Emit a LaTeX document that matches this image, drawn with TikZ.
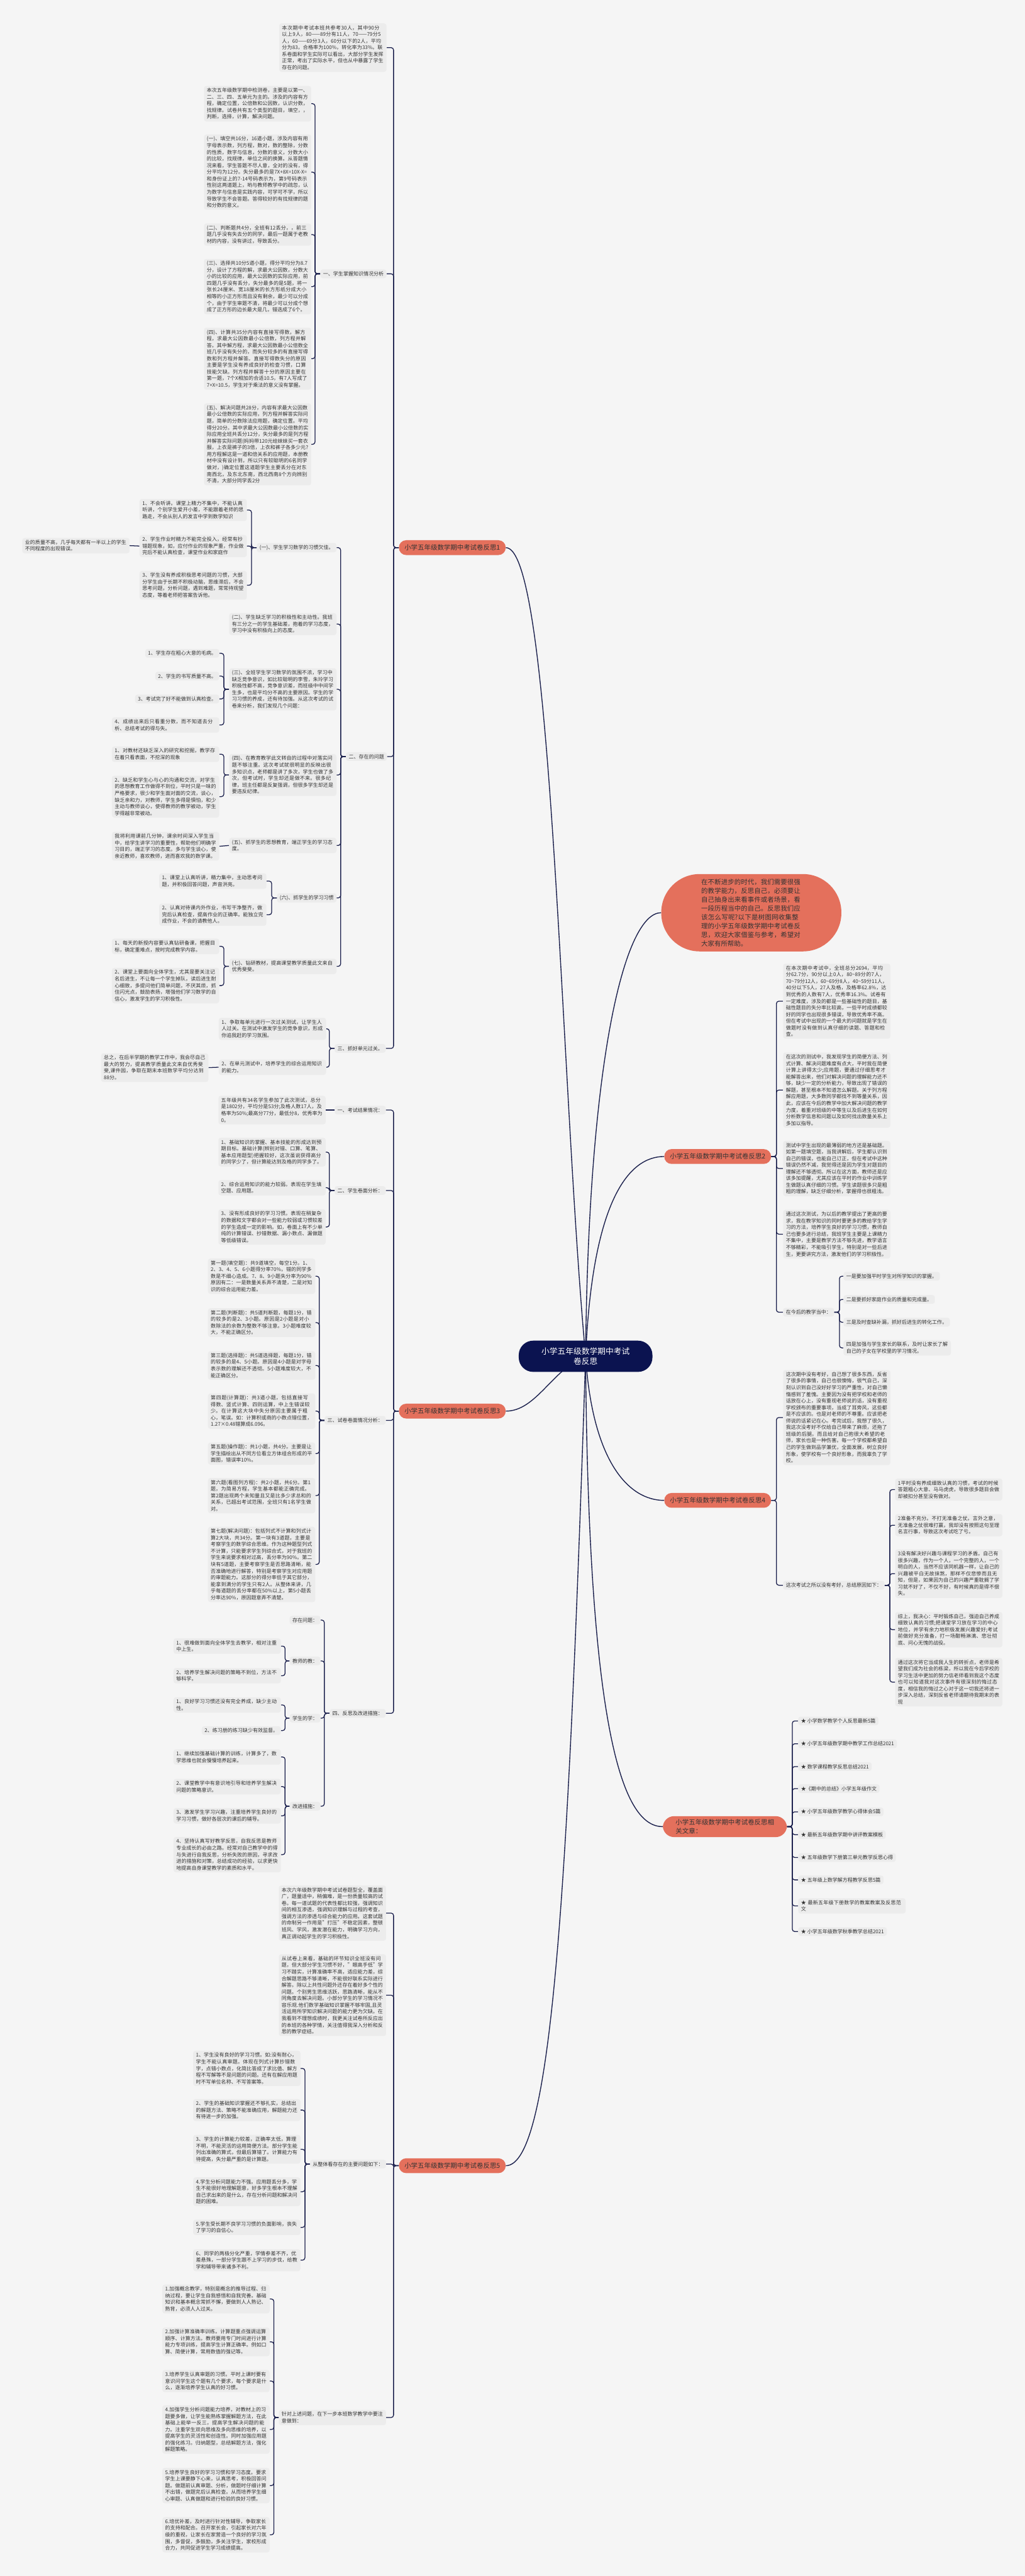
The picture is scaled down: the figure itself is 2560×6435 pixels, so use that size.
\documentclass[tikz,border=0pt]{standalone}
\usepackage{fontspec}
\setmainfont{Noto Sans CJK SC}
\XeTeXlinebreaklocale "zh"
\XeTeXlinebreakskip = 0pt plus 1pt
\usetikzlibrary{backgrounds}
\definecolor{bgc}{HTML}{F5F5F5}
\definecolor{boxc}{HTML}{ECECEC}
\definecolor{txtc}{HTML}{333333}
\definecolor{coral}{HTML}{E4705C}
\definecolor{navy}{HTML}{0B1350}
\definecolor{linec}{HTML}{1A1F4C}

\begin{document}
\begin{tikzpicture}[
    x=0.5pt, y=-0.5pt,
    txt/.style={fill=boxc, rounded corners=3pt, inner xsep=3.5pt, inner ysep=2.5pt, text=txtc, font=\fontsize{6.3}{8.3}\selectfont, text width=127pt, align=left},
    lbl/.style={fill=boxc, rounded corners=3pt, inner xsep=3.5pt, inner ysep=2.5pt, text=txtc, font=\fontsize{6.3}{8.3}\selectfont},
    branch/.style={fill=coral, rounded corners=9pt, minimum height=18.5pt, inner xsep=7pt, text=txtc, font=\fontsize{8.2}{10.5}\selectfont},
    root/.style={fill=navy, text=white, rounded corners=18pt, minimum width=167pt, minimum height=39pt, align=center, font=\fontsize{10}{13}\selectfont},
    intro/.style={fill=coral, rounded corners=48pt, text width=125pt, inner xsep=50pt, inner ysep=6pt, align=left, text=txtc, font=\fontsize{8.2}{11}\selectfont},
    link/.style={draw=linec, line width=1pt, rounded corners=3pt},
    trunk/.style={draw=linec, line width=1.1pt}
]
\begin{pgfonlayer}{background}
\fill[bgc] (0,0) rectangle (2560,6435);
\end{pgfonlayer}
\useasboundingbox (0,0) rectangle (2560,6435);

\node[root] (root) at (1463,3388) {小学五年级数学期中考试\\卷反思};
\node[intro] (intro) at (1877,2280) {在不断进步的时代，我们需要很强的教学能力，反思自己，必须要让自己抽身出来看事件或者场景，看一段历程当中的自己。反思我们应该怎么写呢?以下是树图网收集整理的小学五年级数学期中考试卷反思，欢迎大家借鉴与参考，希望对大家有所帮助。};

\node[branch] (b1) at (1130,1368) {小学五年级数学期中考试卷反思1};
\node[txt, anchor=east] (p1) at (966,119) {本次期中考试本班共参考30人，其中90分以上9人，80——89分有11人，70——79分5人，60——69分3人，60分以下的2人，平均分为83，合格率为100\%，转化率为33\%。联系卷面和学生实际可以看出，大部分学生发挥正常，考出了实际水平，但也从中暴露了学生存在的问题。};
\node[lbl, anchor=east] (a0) at (966,684) {一、学生掌握知识情况分析};
\node[txt, anchor=east] (B1) at (778,259) {本次五年级数学期中检测卷，主要是以第一、二、三、四、五单元为主的。涉及的内容有方程，确定位置，公倍数和公因数，认识分数，找规律。试卷共有五个类型的题目，填空，，判断，选择，计算，解决问题。};
\node[txt, anchor=east] (B2) at (778,430) {(一)、填空共16分，16道小题，涉及内容有用字母表示数，列方程，数对，数的整除，分数的性质，数字与信息，分数的意义，分数大小的比较，找规律，单位之间的换算。从答题情况来看，学生答题不尽人意，全对的没有，得分平均为12分。失分最多的是7X+8X=10X-X=和身份证上的7-14号码表示为，第9号码表示性别这两道题上，哟与教师教学中的疏忽，认为数字与信息是实践内容，可学可不学，所以导致学生不会答题。答得较好的有找规律的题和分数的意义。};
\node[txt, anchor=east] (B3) at (778,586) {(二)、判断题共4分，全班有12丢分，，前三题几乎没有失去分的同学，最后一题属于老教材的内容，没有讲过，导致丢分。};
\node[txt, anchor=east] (B4) at (778,716) {(三)、选择共10分5道小题，得分平均分为8.7分，设计了方程的解，求最大公因数，分数大小的比较的应用，最大公因数的实际应用，前四题几乎没有丢分，失分最多的是5题，将一张长24厘米、宽18厘米的长方形纸分成大小相等的小正方形而且没有剩余，最少可以分成个，由于学生审题不清，将最少可以分成个想成了正方形的边长最大是几，错选成了6个。};
\node[txt, anchor=east] (B5) at (778,896) {(四)、计算共35分内容有直接写得数，解方程，求最大公因数最小公倍数，列方程并解答。其中解方程，求最大公因数最小公倍数全班几乎没有失分的，而失分较多的有直接写得数和列方程并解答。直接写得数失分的原因主要是学生没有养成良好的检查习惯，口算技能欠缺。列方程并解答十分的原因主要在第一题，7个X相加的合适10.5，有7人写成了7+X=10.5，学生对于乘法的意义没有掌握。};
\node[txt, anchor=east] (B6) at (778,1110) {(五)、解决问题共28分，内容有求最大公因数最小公倍数的实际应用，列方程并解答实际问题，简单的分数除法应用题，确定位置。平均得分20分。其中求最大公因数最小公倍数的实际应用全班共丢分12分，失分最多的是列方程并解答实际问题(妈妈带120元给妹妹买一套衣服，上衣是裤子的3倍，上衣和裤子各多少元?用方程解这是一道和倍关系的应用题，本册教材中没有设计到，所以只有较聪明的6名同学做对，)确定位置这道题学生主要丢分在对东南西北，及东北东南，西北西南8个方向辨别不清，大部分同学丢2分};

\node[lbl, anchor=east] (a1) at (967,1890) {二、存在的问题};
\node[lbl, anchor=east] (A1a) at (841,1368) {(一)、学生学习数学的习惯欠佳。};
\node[txt, anchor=east] (C1) at (617,1274) {1、不会听讲。课堂上精力不集中，不能认真听讲，个别学生爱开小差，不能跟着老师的思路走，不会从别人的发言中学到数学知识};
\node[txt, anchor=east] (C2) at (617,1364) {2、学生作业时精力不能完全投入，经常有抄错题现象，如，应付作业的现象严重，作业做完后不能认真检查，课堂作业和家庭作};
\node[txt, anchor=east] (C2t) at (324,1363) {业的质量不高，几乎每天都有一半以上的学生不同程度的出现错误。};
\node[txt, anchor=east] (C3) at (617,1462) {3、学生没有养成积极思考问题的习惯，大部分学生由于长期不积极动脑，思维滞后，不会思考问题，分析问题，遇到难题，常常持观望态度，等着老师把答案告诉他。};
\node[txt, anchor=east] (A1b) at (841,1559) {(二)、学生缺乏学习的积极性和主动性。我班有三分之一的学生基础差，抱着的学习态度，学习中没有积极向上的态度。};
\node[txt, anchor=east] (A1c) at (841,1722) {(三)、全班学生学习数学的氛围不浓，学习中缺乏竞争意识，如比较聪明的李雪，朱玲学习积极性都不高，竞争意识差，而班级中中间学生多，也是平均分不高的主要原因。学生的学习习惯的养成，还有待加强。从这次考试的试卷来分析，我们发现几个问题：};
\node[lbl, anchor=east] (D1) at (548,1632) {1、学生存在粗心大意的毛病。};
\node[lbl, anchor=east] (D2) at (548,1689) {2、学生的书写质量不高。};
\node[lbl, anchor=east] (D3) at (548,1746) {3、考试完了好不能做到认真检查。};
\node[txt, anchor=east] (D4) at (548,1811) {4、成绩出来后只看重分数，而不知道去分析、总结考试的得与失。};
\node[txt, anchor=east] (A1d) at (841,1936) {(四)、在教育教学此文转自的过程中对落实问题不够注重。这次考试就很明显的反映出很多知识点，老师都是讲了多次，学生也做了多次，但考试时，学生却还是做不来。很多纪律，班主任都是反复强调，但很多学生却还是要违反纪律。};
\node[txt, anchor=east] (E1) at (548,1884) {1、对教材还缺乏深入的研究和挖掘，教学存在着只看表面，不挖深的现象};
\node[txt, anchor=east] (E2) at (548,1990) {2、缺乏和学生心与心的沟通和交流，对学生的思想教育工作做得不到位，平时只是一味的严格要求，很少和学生面对面的交流，谈心，缺乏亲和力，对教师，学生多得是惧怕，和少主动与教师谈心，使得教师的教学被动，学生学得越非常被动。};
\node[txt, anchor=east] (A1e) at (841,2112) {(五)、抓学生的思想教育，端正学生的学习态度。};
\node[txt, anchor=east] (F1) at (548,2114) {我将利用课前几分钟，课余时间深入学生当中，给学生讲学习的重要性，帮助他们明确学习目的，端正学习的态度。多与学生谈心，使亲近教师，喜欢教师，进而喜欢我的数学课。};
\node[lbl, anchor=east] (A1f) at (841,2243) {(六)、抓学生的学习习惯};
\node[txt, anchor=east] (G1) at (666,2201) {1、课堂上认真听讲，精力集中，主动思考问题，并积极回答问题，声音洪亮。};
\node[txt, anchor=east] (G2) at (666,2285) {2、认真对待课内外作业，书写干净整齐，做完后认真检查，提高作业的正确率。能独立完成作业，不会的请教他人。};
\node[txt, anchor=east] (A1g) at (841,2414) {(七)、钻研教材，提高课堂教学质量此文来自优秀斐斐。};
\node[txt, anchor=east] (H1) at (548,2364) {1、每天的新授内容要认真钻研备课，把握目标，确定重难点，按时完成教学内容。};
\node[txt, anchor=east] (H2) at (548,2462) {2、课堂上要面向全体学生，尤其是要关注记名后进生，不让每一个学生掉队，读后进生耐心细致，多提问他们简单问题，不厌其烦，抓住闪光点，鼓励表扬，增强他们学习数学的自信心，激发学生的学习积极性。};

\node[lbl, anchor=east] (a2) at (964,2619) {三、抓好单元过关。};
\node[txt, anchor=east] (I1) at (815,2570) {1、争取每单元进行一次过关测试，让学生人人过关。在测试中激发学生的竞争意识，形成你追我赶的学习氛围。};
\node[txt, anchor=east] (I2) at (815,2666) {2、在单元测试中，培养学生的综合运用知识的能力。};
\node[txt, anchor=east] (I2t) at (521,2667) {总之，在后半学期的教学工作中，我会尽自己最大的努力，提高教学质量此文来自优秀斐斐,课件园，争取在期末本班数学平均分达到88分。};

\node[branch] (b2) at (1793,2889) {小学五年级数学期中考试卷反思2};
\node[txt, anchor=west] (Q1) at (1956,2501) {在本次期中考试中，全班总分2694，平均分62.7分，90分以上0人，80\textasciitilde89分的7人，70\textasciitilde79分12人，60\textasciitilde69分8人，40\textasciitilde59分11人，40分以下5人，27人及格，及格率62.8\%，达到优秀的人数有7人，优秀率16.3\%。试卷有一定难度，涉及的都是一些基础性的题目，基础性题目的失分率比较高，一些平时成绩都较好的同学也出现很多错误，导致优秀率不高。但在考试中出现的一个最大的问题就是学生在做题时没有做到认真仔细的读题、答题和检查。};
\node[txt, anchor=west] (Q2) at (1956,2723) {在这次的测试中，我发现学生的简便方法、列式计算、解决问题难度有点大，平时我在简便计算上讲得太少;应用题，要通过仔细思考才能解答出来，他们对解决问题的理解能力还不够，缺少一定的分析能力，导致出现了错误的解题，甚至根本不知道怎么解题。关于列方程解应用题，大多数同学都找不到等量关系，因此，应该在今后的教学中加大解决问题的教学力度，着重对班级的中等生以及后进生在如何分析数学信息和问题以及如何找出数量关系上多加以指导。};
\node[txt, anchor=west] (Q3) at (1956,2919) {测试中学生出现的最薄弱的地方还是基础题。如第一题填空题，当我讲解后，学生都认识到自己的错误，也能自己订正，但在考试中这种错误仍然不减，我觉得还是因为学生对题目的理解还不够透彻。所以在这方面，教师还是应该多加提醒，尤其应该在平时的作业中训练学生做题认真仔细的习惯。学生读题很多只是粗粗的理解，缺乏仔细分析，掌握得也很粗浅。};
\node[txt, anchor=west] (Q4) at (1956,3083) {通过这次测试，为以后的教学提出了更高的要求，我在教学知识的同时要更多的教给学生学习的方法，培养学生良好的学习习惯，教师自己也要多进行总结，我班学生主要是上课精力不集中，主要是教学方法不够先进，教学语言不够精彩，不能吸引学生，特别是对一些后进生，更要讲究方法，激发他们的学习积极性。};
\node[lbl, anchor=west] (Q5) at (1956,3278) {在今后的教学当中：};
\node[lbl, anchor=west] (R1) at (2107,3188) {一是要加强平时学生对所学知识的掌握。};
\node[lbl, anchor=west] (R2) at (2107,3246) {二是要抓好家庭作业的质量和完成量。};
\node[lbl, anchor=west] (R3) at (2107,3303) {三是及时查缺补漏，抓好后进生的转化工作。};
\node[txt, anchor=west] (R4) at (2107,3367) {四是加强与学生家长的联系，及时让家长了解自己的子女在学校里的学习情况。};

\node[branch] (b3) at (1130,3525) {小学五年级数学期中考试卷反思3};
\node[lbl, anchor=east] (K1) at (964,2773) {一、考试结果情况：};
\node[txt, anchor=east] (J1) at (814,2773) {五年级共有34名学生参加了此次测试，总分是1802分，平均分是53分;及格人数17人，及格率为50\%;最高分77分，最低分8，优秀率为0。};
\node[lbl, anchor=east] (K2) at (964,2974) {二、学生卷面分析：};
\node[txt, anchor=east] (J2) at (814,2878) {1、基础知识的掌握、基本技能的形成达到预期目标。基础计算(辨别对错、口算、笔算、基本应用题型)把握较好，这次虽说获得高分的同学少了，但计算能达到及格的同学多了。};
\node[txt, anchor=east] (J3) at (814,2967) {2、综合运用知识的能力较弱。表现在学生填空题、应用题。};
\node[txt, anchor=east] (J4) at (814,3065) {3、没有形成良好的学习习惯。表现在稍复杂的数据和文字都会对一些能力较弱或习惯较差的学生造成一定的影响。如，卷面上有不少单纯的计算错误、抄错数据、漏小数点、漏做题等低级错误。};
\node[lbl, anchor=east] (K3) at (964,3548) {三、试卷卷面情况分析：};
\node[txt, anchor=east] (L1) at (788,3188) {第一题(填空题)：共9道填空，每空1分。1、2、3、4、5、6小题得分率70\%，错的同学多数是不细心造成。7、8、9小题失分率为90\%原因有二：一是数量关系弄不清楚，二是对知识的综合运用能力差。};
\node[txt, anchor=east] (L2) at (788,3304) {第二题(判断题)：共5道判断题，每题1分，错的较多的是2、3小题。原因是2小题是对小数除法的余数为整数不够注意。3小题难度较大，不能正确区分。};
\node[txt, anchor=east] (L3) at (788,3411) {第三题(选择题)：共5道选择题，每题1分，错的较多的是4、5小题。原因是4小题是对字母表示数的理解还不透彻。5小题难度较大，不能正确区分。};
\node[txt, anchor=east] (L4) at (788,3525) {第四题(计算题)：共3道小题，包括直接写得数、竖式计算、四则运算，中上生错误较少。在计算这大块中失分原因主要属于粗心，笔误。如：计算积或商的小数点错位置，1.27×0.48错算成6.096。};
\node[txt, anchor=east] (L5) at (788,3631) {第五题(操作题)：共1小题，共4分。主要是让学生描绘出从不同方位看立方体组合形成的平面图，错误率10\%。};
\node[txt, anchor=east] (L6) at (788,3736) {第六题(看图列方程)：共2小题，共6分。第1题，为简易方程，学生基本都能正确完成。第2题出现两个未知量且又是比多少求总和的关系，已超出考试范围，全班只有1名学生做对。};
\node[txt, anchor=east] (L7) at (788,3908) {第七题(解决问题)：包括列式不计算和列式计算2大块，共34分。第一块有3道题，主要是考察学生的数学综合思维。作为这种题型列式不计算，只能要求学生列综合式，对于我班的学生来说要求相对过高，丢分率为90\%。第二块有5道题，主要考察学生是否思路清晰，能否准确地进行解答，特别是考察学生对应用题的审题能力。这部分的得分率低于其它部分，能拿到满分的学生只有2人。从整体来讲，几乎每道题的丢分率都在50\%以上，第5小题丢分率达90\%，原因题意弄不清楚。};
\node[lbl, anchor=east] (K4) at (964,4280) {四、反思及改进措施：};
\node[lbl, anchor=east] (M0) at (801,4047) {存在问题：};
\node[lbl, anchor=east] (M1) at (801,4149) {教师的教：};
\node[txt, anchor=east] (N1) at (702,4112) {1、很难做到面向全体学生去教学，相对注重中上生。};
\node[txt, anchor=east] (N2) at (702,4186) {2、培养学生解决问题的策略不到位，方法不够科学。};
\node[lbl, anchor=east] (M2) at (801,4292) {学生的学：};
\node[txt, anchor=east] (N3) at (702,4259) {1、良好学习习惯还没有完全养成，缺少主动性。};
\node[lbl, anchor=east] (N4) at (702,4323) {2、练习册的练习缺少有效监督。};
\node[lbl, anchor=east] (M3) at (801,4512) {改进措施：};
\node[txt, anchor=east] (O1) at (702,4389) {1、继续加强基础计算的训练，计算多了，数学思维也就会慢慢培养起来。};
\node[txt, anchor=east] (O2) at (702,4463) {2、课堂教学中有意识地引导和培养学生解决问题的策略意识。};
\node[txt, anchor=east] (O3) at (702,4536) {3、激发学生学习兴趣，注重培养学生良好的学习习惯，做好各层次的课后的辅导。};
\node[txt, anchor=east] (O4) at (702,4633) {4、坚持认真写好教学反思，自我反思是教师专业成长的必由之路。经常对自己教学中的得与失进行自我反思，分析失败的原因，寻求改进的措施和对策，总结成功的经验，以求更快地提高自身课堂教学的素质和水平。};

\node[branch] (b4) at (1793,3748) {小学五年级数学期中考试卷反思4};
\node[txt, anchor=west] (S1) at (1956,3541) {这次期中没有考好，自己想了很多东西，反省了很多的事情，自己也很懊悔，很气自己，深刻认识到自己没好好学习的严重性，对自己懒惰感到了羞愧。主要因为没有把学校和老师的话放在心上，没有重视老师说的话，没有重视学校颁布的重要事项，当成了耳旁风，这些都是不应该的。也是对老师的不尊重。应该把老师说的话紧记在心。考完试后，我想了很久，我这次没考好不仅给自己带来了麻烦，还拖了班级的后腿。而且给对自己抱很大希望的老师，家长也是一种伤害。每一个学校都希望自己的学生做到品学兼优，全面发展，树立良好形象，使学校有一个良好形象，而我辜负了学校。};
\node[lbl, anchor=west] (S2) at (1956,3960) {这次考试之所以没有考好，总结原因如下：};
\node[txt, anchor=west] (T1) at (2236,3721) {1平时没有养成细致认真的习惯，考试的时候答题粗心大意、马马虎虎，导致很多题目会做却被扣分甚至没有做对。};
\node[txt, anchor=west] (T2) at (2236,3810) {2准备不充分。不打无准备之仗。言外之意，无准备之仗很难打赢，我却没有按照这句至理名言行事，导致这次考试吃了亏。};
\node[txt, anchor=west] (T3) at (2236,3931) {3没有解决好兴趣与课程学习的矛盾。自己有很多兴趣，作为一个人，一个完整的人，一个明白的人，当然不应该同机器一样，让自己的兴趣被平白无故抹煞，那样不仅悲惨而且无知，但是，如果因为自己的兴趣严重耽搁了学习就不好了，不仅不好，有时候真的是得不偿失。};
\node[txt, anchor=west] (T4) at (2236,4071) {综上，我决心：平时锻炼自己，强迫自己养成细致认真的习惯;把课堂学习放在学习的中心地位，并学有余力地积极发展兴趣爱好;考试前做好充分准备，打一场酣畅淋漓、悲壮彻底、问心无愧的战役。};
\node[txt, anchor=west] (T5) at (2236,4202) {通过这次将它当成我人生的转折点，老师是希望我们成为社会的栋梁，所以我在今后学校的学习生活中更加的努力信老师看到我这个态度也可以知道我对这次事件有很深刻的悔过态度，相信我的悔过之心对于这一切我还将进一步深入总结，深刻反省老师请期待我期末的表现};

\node[branch, text width=123pt, inner xsep=16pt, inner ysep=4pt, rounded corners=14pt, align=left] (rel) at (1811,4563) {小学五年级数学期中考试卷反思相关文章：};
\node[lbl, anchor=west] (r1) at (1994,4299) {★ 小学数学教学个人反思最新5篇};
\node[lbl, anchor=west] (r2) at (1994,4356) {★ 小学五年级数学期中教学工作总结2021};
\node[lbl, anchor=west] (r3) at (1994,4413) {★ 数学课程教学反思总结2021};
\node[lbl, anchor=west] (r4) at (1994,4468) {★《期中的总结》小学五年级作文};
\node[lbl, anchor=west] (r5) at (1994,4526) {★ 小学五年级数学教学心得体会5篇};
\node[lbl, anchor=west] (r6) at (1994,4583) {★ 最新五年级数学期中讲评教案模板};
\node[lbl, anchor=west] (r7) at (1994,4640) {★ 五年级数学下册第三单元教学反思心得};
\node[lbl, anchor=west] (r8) at (1994,4696) {★ 五年级上数学解方程教学反思5篇};
\node[txt, anchor=west] (r9) at (1994,4761) {★ 最新五年级下册数学的教案教案及反思范文};
\node[lbl, anchor=west] (r10) at (1994,4825) {★ 小学五年级数学秋季教学总结2021};

\node[branch] (b5) at (1130,5410) {小学五年级数学期中考试卷反思5};
\node[txt, anchor=east] (U1) at (965,4779) {本次六年级数学期中考试试卷题型全，覆盖面广，题量适中，稍偏难，是一份质量较高的试卷。每一道试题的代表性都比较强，强调知识间的相互渗透，强调知识理解与过程的考查，强调方法的渗透与综合能力的应用。这套试题的命制另一作用是"打压"不稳定因素，整顿班风、学风，激发潜在能力，明确学习方向，真正调动起学生的学习积极性。};
\node[txt, anchor=east] (U2) at (965,4984) {从试卷上来看，基础的环节知识全班没有问题，但大部分学生习惯不好，"眼高手低"学习不踏实，计算准确率不高，适应能力差，综合解题思路不够清晰，不能很好联系实际进行解答。除以上共性问题外还存在着好多个性的问题。个别男生思维活跃，思路清晰，能从不同角度去解决问题。小部分学生的学习情况不容乐观.他们数学基础知识掌握不够牢固,且灵活运用所学知识解决问题的能力更为欠缺。在我看到不理想成绩时，我更关注试卷所反应出的本班的各种学情，关注值得我深入分析和反思的教学症结。};
\node[lbl, anchor=east] (W1) at (965,5406) {从整体看存在的主要问题如下：};
\node[txt, anchor=east] (V1) at (751,5167) {1、学生没有良好的学习习惯。如:没有耐心，学生不能认真审题。体现在列式计算抄错数字，点错小数点，化简比答成了求比值、解方程不写解等不是问题的问题。还有在解应用题时不写单位名称、不写答案等。};
\node[txt, anchor=east] (V2) at (751,5271) {2、学生的基础知识掌握还不够扎实，总结出的解题方法、策略不能准确应用，解题能力还有待进一步的加强。};
\node[txt, anchor=east] (V3) at (751,5369) {3、学生的计算能力较差，正确率太低，算理不明，不能灵活的运用简便方法。部分学生能列出准确的算式，但最后算错了。计算能力有待提高，失分最严重的是计算题。};
\node[txt, anchor=east] (V4) at (751,5475) {4.学生分析问题能力不强。应用题丢分多，学生不能很好地理解题意，好多学生根本不理解自己求出来的是什么，存在分析问题和解决问题的困难。};
\node[txt, anchor=east] (V5) at (751,5564) {5.学生受长期不良学习习惯的负面影响，丧失了学习的自信心。};
\node[txt, anchor=east] (V6) at (751,5646) {6、同学的两极分化严重，学情参差不齐，优差悬殊，一部分学生跟不上学习的步伐，给教学和辅导带来诸多不利。};
\node[txt, anchor=east] (W2) at (965,6039) {针对上述问题，在下一步本班数学教学中要注意做到：};
\node[txt, anchor=east] (X1) at (674,5743) {1.加强概念教学，特别是概念的推导过程、归纳过程，要让学生自我感悟和自我完善。基础知识和基本概念常抓不懈，要做到人人熟记、熟背，必须人人过关。};
\node[txt, anchor=east] (X2) at (674,5850) {2.加强计算准确率训练。计算题重点强调运算顺序、计算方法。教师要用专门时间进行计算能力专项训练，提高学生计算正确率。例如口算、简便计算，常用数值的强记等。};
\node[txt, anchor=east] (X3) at (674,5948) {3.培养学生认真审题的习惯。平时上课时要有意识问学生这个题有几个要求，每个要求是什么，逐渐培养学生认真的好习惯。};
\node[txt, anchor=east] (X4) at (674,6069) {4.加强学生分析问题能力培养，对教材上的习题要多做，让学生能熟练掌握解题方法，在此基础上能举一反三，提高学生解决问题的能力。注重学生双向思维及多向思维的培养，以提高学生的灵活性和创造性。同时加强应用题的强化练习。归纳题型，总结解题方法，强化解题策略。};
\node[txt, anchor=east] (X5) at (674,6209) {5.培养学生良好的学习习惯和学习态度。要求学生上课要静下心来，认真思考，积极回答问题。做题前认真审题、分析，做题时仔细计算不出错，做题完后认真检查。从而培养学生细心审题、认真做题和进行检验的良好习惯。};
\node[txt, anchor=east] (X6) at (674,6332) {6.培优补差，及时进行针对性辅导，争取家长的支持和配合。召开家长会，引起家长对六年级的重视，让家长在家营造一个良好的学习氛围，多督促，多鼓励，多关注学生，家校形成合力，共同促进学生学习成绩提高。};

\begin{pgfonlayer}{background}
\draw[trunk] (root.center) .. controls (1400,2700) and (1380,1368) .. (b1.east);
\draw[trunk] (root.center) .. controls (1470,2650) and (1560,2280) .. (intro.west);
\draw[trunk] (root.center) .. controls (1480,3000) and (1570,2889) .. (b2.west);
\draw[trunk] (root.center) .. controls (1380,3420) and (1340,3525) .. (b3.east);
\draw[trunk] (root.center) .. controls (1480,3650) and (1570,3748) .. (b4.west);
\draw[trunk] (root.center) .. controls (1470,4350) and (1560,4563) .. (rel.west);
\draw[trunk] (root.center) .. controls (1420,4700) and (1380,5410) .. (b5.east);

\foreach \c in {p1,a0,a1,a2} \draw[link] (b1.west) -- ++(-13,0) |- (\c.east);
\foreach \c in {B1,B2,B3,B4,B5,B6} \draw[link] (a0.west) -- ++(-13,0) |- (\c.east);
\foreach \c in {A1a,A1b,A1c,A1d,A1e,A1f,A1g} \draw[link] (a1.west) -- ++(-13,0) |- (\c.east);
\foreach \c in {C1,C2,C3} \draw[link] (A1a.west) -- ++(-13,0) |- (\c.east);
\draw[link] (C2.west) -- (C2t.east);
\foreach \c in {D1,D2,D3,D4} \draw[link] (A1c.west) -- ++(-13,0) |- (\c.east);
\foreach \c in {E1,E2} \draw[link] (A1d.west) -- ++(-13,0) |- (\c.east);
\draw[link] (A1e.west) -- (F1.east);
\foreach \c in {G1,G2} \draw[link] (A1f.west) -- ++(-13,0) |- (\c.east);
\foreach \c in {H1,H2} \draw[link] (A1g.west) -- ++(-13,0) |- (\c.east);
\foreach \c in {I1,I2} \draw[link] (a2.west) -- ++(-13,0) |- (\c.east);
\draw[link] (I2.west) -- (I2t.east);

\foreach \c in {Q1,Q2,Q3,Q4,Q5} \draw[link] (b2.east) -- ++(13,0) |- (\c.west);
\foreach \c in {R1,R2,R3,R4} \draw[link] (Q5.east) -- ++(13,0) |- (\c.west);

\foreach \c in {K1,K2,K3,K4} \draw[link] (b3.west) -- ++(-13,0) |- (\c.east);
\draw[link] (K1.west) -- (J1.east);
\foreach \c in {J2,J3,J4} \draw[link] (K2.west) -- ++(-13,0) |- (\c.east);
\foreach \c in {L1,L2,L3,L4,L5,L6,L7} \draw[link] (K3.west) -- ++(-13,0) |- (\c.east);
\foreach \c in {M0,M1,M2,M3} \draw[link] (K4.west) -- ++(-13,0) |- (\c.east);
\foreach \c in {N1,N2} \draw[link] (M1.west) -- ++(-11,0) |- (\c.east);
\foreach \c in {N3,N4} \draw[link] (M2.west) -- ++(-11,0) |- (\c.east);
\foreach \c in {O1,O2,O3,O4} \draw[link] (M3.west) -- ++(-11,0) |- (\c.east);

\foreach \c in {S1,S2} \draw[link] (b4.east) -- ++(13,0) |- (\c.west);
\foreach \c in {T1,T2,T3,T4,T5} \draw[link] (S2.east) -- ++(13,0) |- (\c.west);

\foreach \c in {r1,r2,r3,r4,r5,r6,r7,r8,r9,r10} \draw[link] (rel.east) -- ++(13,0) |- (\c.west);

\foreach \c in {U1,U2,W1,W2} \draw[link] (b5.west) -- ++(-13,0) |- (\c.east);
\foreach \c in {V1,V2,V3,V4,V5,V6} \draw[link] (W1.west) -- ++(-12,0) |- (\c.east);
\foreach \c in {X1,X2,X3,X4,X5,X6} \draw[link] (W2.west) -- ++(-12,0) |- (\c.east);
\end{pgfonlayer}
\end{tikzpicture}
\end{document}
